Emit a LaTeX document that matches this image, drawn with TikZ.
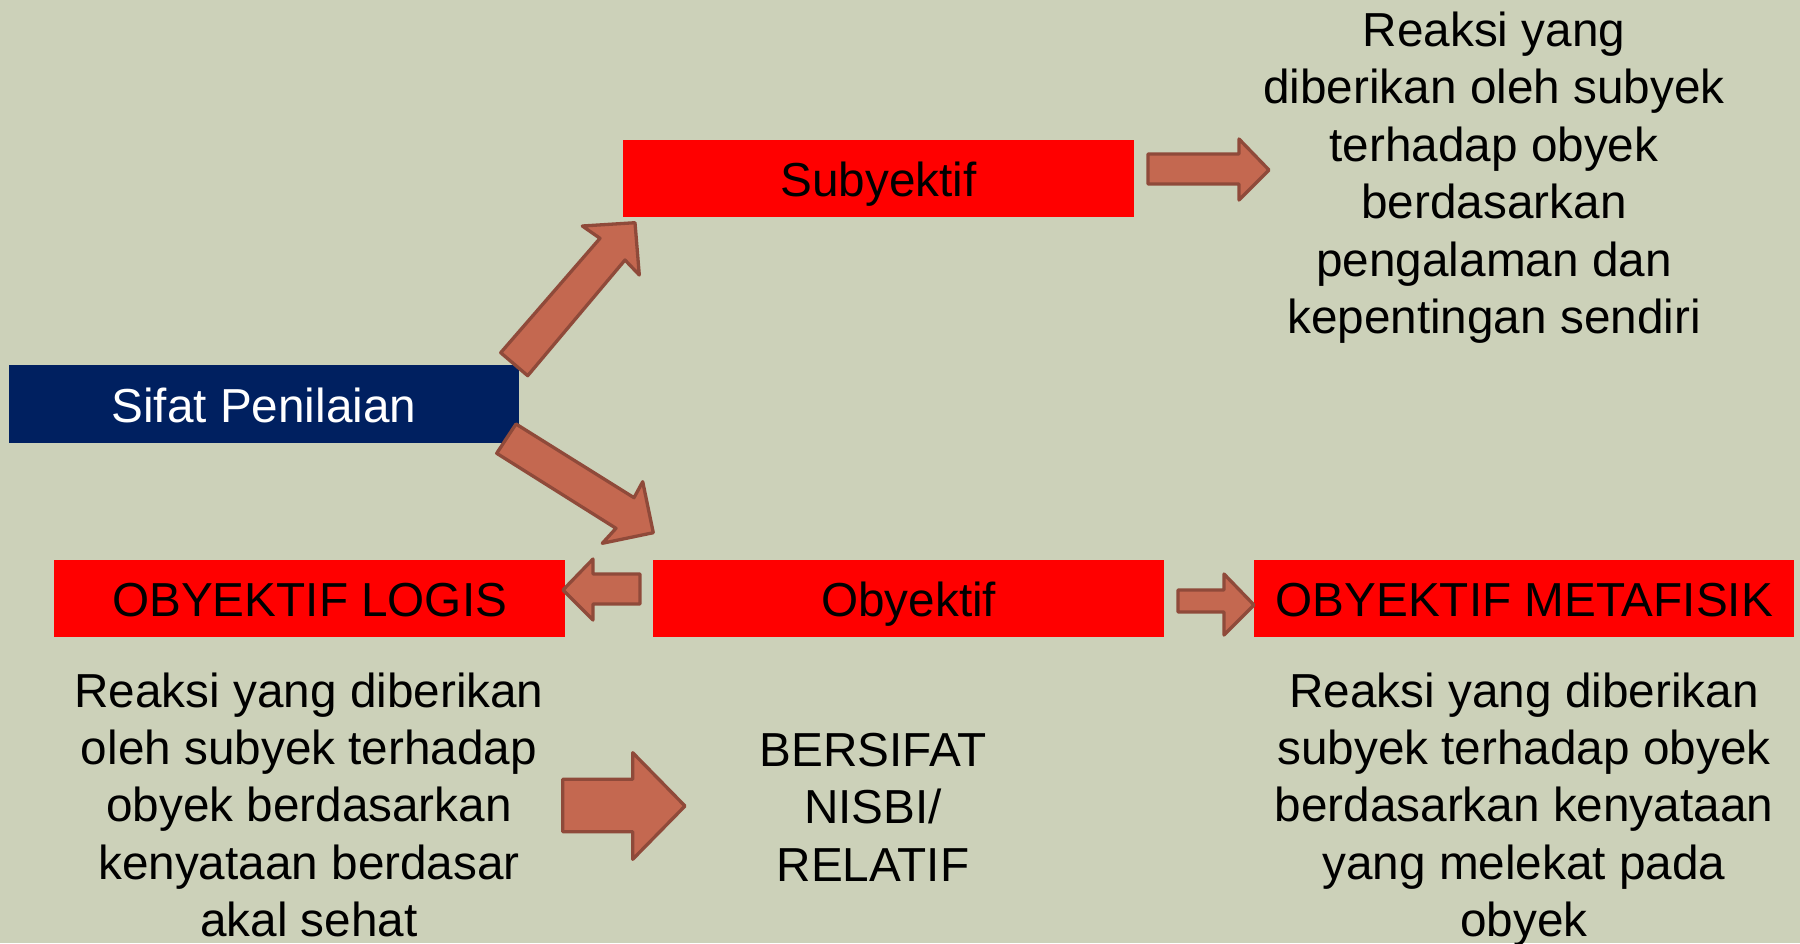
\documentclass[tikz,border=0pt]{standalone}
\usepackage{fontspec}
\setmainfont{Liberation Sans}
\definecolor{bgc}{RGB}{204,209,185}
\definecolor{navy}{RGB}{0,32,96}
\definecolor{arrfill}{RGB}{196,104,80}
\definecolor{arrdraw}{RGB}{143,74,58}
\begin{document}
\begin{tikzpicture}[x=1pt,y=-1pt,
  txt/.style={font=\fontsize{47.7}{57}\selectfont, inner sep=0pt, anchor=base, text=black},
  boxbase/.style={font=\fontsize{47.7}{57}\selectfont, inner xsep=0pt, inner ysep=0pt,
     text height=56pt, text depth=21pt, anchor=north west},
  redbox/.style={boxbase, fill=red, text=black},
  bluebox/.style={boxbase, fill=navy, text=white},
  blockarrow/.style={fill=arrfill, draw=arrdraw, line width=3.3pt, line join=round}]
\fill[bgc] (0,0) rectangle (1800,943);
\useasboundingbox (0,0) rectangle (1800,943);

% boxes
\node[bluebox, minimum width=510.5pt, text height=57pt, text depth=20.5pt] (sifat) at (8.5,365) {Sifat Penilaian};
\node[redbox, minimum width=511pt] (subj) at (623,140) {Subyektif};
\node[redbox, minimum width=511pt] (obj) at (653,560) {Obyektif};
\node[redbox, minimum width=511pt] (logis) at (54,560) {OBYEKTIF LOGIS};
\node[redbox, minimum width=540pt] (meta) at (1254,560) {OBYEKTIF METAFISIK};

% block arrows
\draw[blockarrow] (500.7,352.7) -- (600,238.3) -- (582.3,226) -- (635,222.7) -- (639.3,275) -- (625,260) -- (527.7,375.7) -- cycle;
\draw[blockarrow] (516,424) -- (634,497.7) -- (642.7,481.7) -- (653.3,532.7) -- (602.3,543.3) -- (616,528.3) -- (496.7,453.3) -- cycle;
\draw[blockarrow] (1148,154) -- (1239,154) -- (1239,139) -- (1269,170) -- (1239,200) -- (1239,184) -- (1148,184) -- cycle;
\draw[blockarrow] (640,574) -- (593,574) -- (593,559) -- (563,590) -- (593,620) -- (593,604) -- (640,604) -- cycle;
\draw[blockarrow] (1178,590) -- (1224,590) -- (1224,574) -- (1254,605) -- (1224,635) -- (1224,612) -- (1178,612) -- cycle;
\draw[blockarrow] (562.7,779.3) -- (632.7,779.3) -- (632.7,752.7) -- (685,806) -- (632.7,859.3) -- (632.7,831.7) -- (562.7,831.7) -- cycle;

% top-right paragraph
\node[txt] (tr1) at (1494,46) {Reaksi yang};
\node[txt] (tr2) at (1494,103.5) {diberikan oleh subyek};
\node[txt] (tr3) at (1494,161) {terhadap obyek};
\node[txt] (tr4) at (1494,218.5) {berdasarkan};
\node[txt] (tr5) at (1494,276) {pengalaman dan};
\node[txt] (tr6) at (1494,333.5) {kepentingan sendiri};

% bottom-left paragraph
\node[txt] (bl1) at (309,707) {Reaksi yang diberikan};
\node[txt] (bl2) at (309,764) {oleh subyek terhadap};
\node[txt] (bl3) at (309,821.5) {obyek berdasarkan};
\node[txt] (bl4) at (309,879) {kenyataan berdasar};
\node[txt] (bl5) at (309,936.5) {akal sehat};

% middle
\node[txt] (m1) at (873,766) {BERSIFAT};
\node[txt] (m2) at (873,823.5) {NISBI/};
\node[txt] (m3) at (873,881) {RELATIF};

% bottom-right paragraph
\node[txt] (br1) at (1524,707) {Reaksi yang diberikan};
\node[txt] (br2) at (1524,764) {subyek terhadap obyek};
\node[txt] (br3) at (1524,821.5) {berdasarkan kenyataan};
\node[txt] (br4) at (1524,879) {yang melekat pada};
\node[txt] (br5) at (1524,936.5) {obyek};
\end{tikzpicture}
\end{document}
